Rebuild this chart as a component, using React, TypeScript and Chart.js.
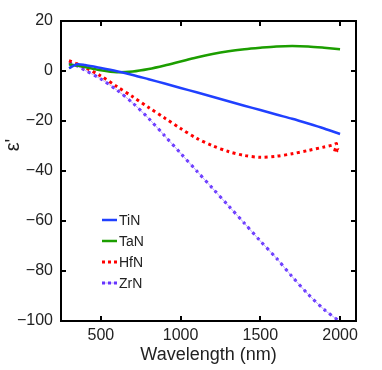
import React, { useEffect, useRef } from "react";
import { Chart, registerables } from "chart.js";

Chart.register(...registerables);

// ---- data ----
const wavelength = [300, 350, 400, 500, 600, 700, 800, 900, 1000, 1100, 1200, 1300, 1400, 1500, 1600, 1700, 1800, 1900, 2000];
const tinValues = [1.1, 2.7, 2.4, 1.2, -0.1, -1.6, -3.3, -5.0, -6.8, -8.5, -10.3, -12.1, -13.9, -15.6, -17.4, -19.1, -21.0, -23.0, -25.2];
const tanValues = [2.6, 2.2, 1.6, 0.3, -0.5, -0.2, 0.8, 2.2, 3.8, 5.4, 6.8, 7.9, 8.7, 9.3, 9.8, 10.0, 9.8, 9.3, 8.7];
const hfnWavelength = [300, 350, 400, 500, 600, 700, 800, 900, 1000, 1100, 1200, 1300, 1400, 1500, 1600, 1700, 1800, 1900, 1950, 1978, 1965, 1990, 2000];
const hfnValues = [4.1, 2.9, 1.4, -2.0, -6.2, -10.3, -14.6, -18.8, -23.0, -26.9, -29.9, -32.2, -33.8, -34.5, -34.1, -33.1, -31.8, -30.4, -29.7, -29.1, -32.6, -31.5, -32.3];
const zrnValues = [3.3, 2.0, 0.3, -3.2, -7.6, -12.8, -19.0, -25.9, -32.9, -39.9, -46.9, -53.9, -60.9, -68.0, -74.8, -82.3, -89.3, -95.4, -100.3];

const seriesNames = ["TiN", "TaN", "HfN", "ZrN"];
const xTicks = [500, 1000, 1500, 2000];
const yTicks = [20, 0, -20, -40, -60, -80, -100];
const xTitle = "Wavelength (nm)";
const yTitle = "ε'";

const FONT = "'Liberation Sans', Arial, Helvetica, sans-serif";
const colors = { TiN: "#2040ff", TaN: "#1c9e00", HfN: "#ff0000", ZrN: "#6633ff", ZrNThin: "rgba(140,110,255,0.55)" };

const pts = (xs: number[], ys: number[]) => xs.map((x, i) => ({ x, y: ys[i] }));

const decorPlugin = {
  id: "decor",
  afterDraw(chart: any) {
    const { ctx, chartArea: a, scales } = chart;
    ctx.save();
    // frame
    ctx.strokeStyle = "#000";
    ctx.lineWidth = 2;
    ctx.setLineDash([]);
    ctx.strokeRect(a.left, a.top, a.right - a.left, a.bottom - a.top);
    const tl = 5;
    ctx.beginPath();
    for (const v of xTicks) {
      const x = Math.round(scales.x.getPixelForValue(v));
      ctx.moveTo(x, a.bottom);
      ctx.lineTo(x, a.bottom - tl);
      ctx.moveTo(x, a.top);
      ctx.lineTo(x, a.top + tl);
    }
    for (const v of yTicks) {
      const y = Math.round(scales.y.getPixelForValue(v));
      ctx.moveTo(a.left, y);
      ctx.lineTo(a.left + tl, y);
      ctx.moveTo(a.right, y);
      ctx.lineTo(a.right - tl, y);
    }
    ctx.stroke();

    // legend
    const lx0 = a.left + 41;
    const lx1 = a.left + 56;
    const ly0 = a.top + 199;
    const step = 21;
    ctx.font = `14px ${FONT}`;
    ctx.textBaseline = "middle";
    ctx.textAlign = "left";
    seriesNames.forEach((name, i) => {
      const y = ly0 + i * step;
      ctx.beginPath();
      ctx.moveTo(lx0, y);
      ctx.lineTo(lx1, y);
      if (name === "ZrN") {
        ctx.setLineDash([]);
        ctx.lineWidth = 1;
        ctx.strokeStyle = colors.ZrNThin;
        ctx.stroke();
        ctx.beginPath();
        ctx.moveTo(lx0, y);
        ctx.lineTo(lx1, y);
        ctx.setLineDash([3, 3]);
        ctx.lineWidth = 3;
        ctx.strokeStyle = colors.ZrN;
      } else if (name === "HfN") {
        ctx.setLineDash([3, 3]);
        ctx.lineWidth = 3;
        ctx.strokeStyle = colors.HfN;
      } else {
        ctx.setLineDash([]);
        ctx.lineWidth = 2.5;
        ctx.strokeStyle = (colors as any)[name];
      }
      ctx.stroke();
      ctx.setLineDash([]);
      ctx.fillStyle = "#222";
      ctx.fillText(name, lx1 + 2, y + 1);
    });

    // axis titles
    ctx.fillStyle = "#222";
    ctx.font = `18px ${FONT}`;
    ctx.textAlign = "center";
    ctx.textBaseline = "middle";
    ctx.fillText(xTitle, (a.left + a.right) / 2, 355);
    ctx.save();
    ctx.translate(13, 145);
    ctx.rotate(-Math.PI / 2);
    ctx.font = `20px ${FONT}`;
    ctx.fillText(yTitle, 0, 0);
    ctx.restore();
    ctx.restore();
  },
};

export default function App() {
  const ref = useRef<HTMLCanvasElement | null>(null);
  useEffect(() => {
    document.body.style.margin = "0";
    const canvas = ref.current!;
    const chart = new Chart(canvas, {
      type: "line",
      data: {
        datasets: [
          { label: "TiN", data: pts(wavelength, tinValues), borderColor: colors.TiN, borderWidth: 2.5, pointRadius: 0, tension: 0.3 },
          { label: "TaN", data: pts(wavelength, tanValues), borderColor: colors.TaN, borderWidth: 2.5, pointRadius: 0, tension: 0.3 },
          { label: "HfN", data: pts(hfnWavelength, hfnValues), borderColor: colors.HfN, borderWidth: 3, borderDash: [3, 3.5], pointRadius: 0, tension: 0.3 },
          { label: "ZrN-line", data: pts(wavelength, zrnValues), borderColor: colors.ZrNThin, borderWidth: 1, pointRadius: 0, tension: 0.3 },
          { label: "ZrN", data: pts(wavelength, zrnValues), borderColor: colors.ZrN, borderWidth: 3, borderDash: [3, 4], pointRadius: 0, tension: 0.3 },
        ] as any,
      },
      options: {
        responsive: false,
        animation: false,
        events: [],
        layout: { padding: { top: 21, right: 26, left: 0, bottom: 0 } },
        plugins: { legend: { display: false }, tooltip: { enabled: false }, title: { display: false } },
        scales: {
          x: {
            type: "linear",
            min: 250,
            max: 2100,
            grid: { display: false, drawTicks: false },
            border: { display: false },
            afterBuildTicks: (s: any) => { s.ticks = xTicks.map((v) => ({ value: v })); },
            afterFit: (s: any) => { s.height = 49; },
            ticks: { color: "#222", font: { size: 16, family: FONT }, padding: 5, maxRotation: 0, callback: (v: any) => String(v) },
          },
          y: {
            type: "linear",
            min: -100,
            max: 20,
            grid: { display: false, drawTicks: false },
            border: { display: false },
            afterBuildTicks: (s: any) => { s.ticks = yTicks.map((v) => ({ value: v })); },
            afterFit: (s: any) => { s.width = 61; },
            ticks: { color: "#222", font: { size: 16, family: FONT }, padding: 8, callback: (v: any) => String(v).replace("-", "\u2212") },
          },
        },
      } as any,
      plugins: [decorPlugin],
    });
    return () => chart.destroy();
  }, []);
  return (
    <div style={{ position: "absolute", left: 0, top: 0, width: 382, height: 370, background: "#fff" }}>
      <canvas ref={ref} width={382} height={370} style={{ display: "block", width: 382, height: 370 }} />
    </div>
  );
}
